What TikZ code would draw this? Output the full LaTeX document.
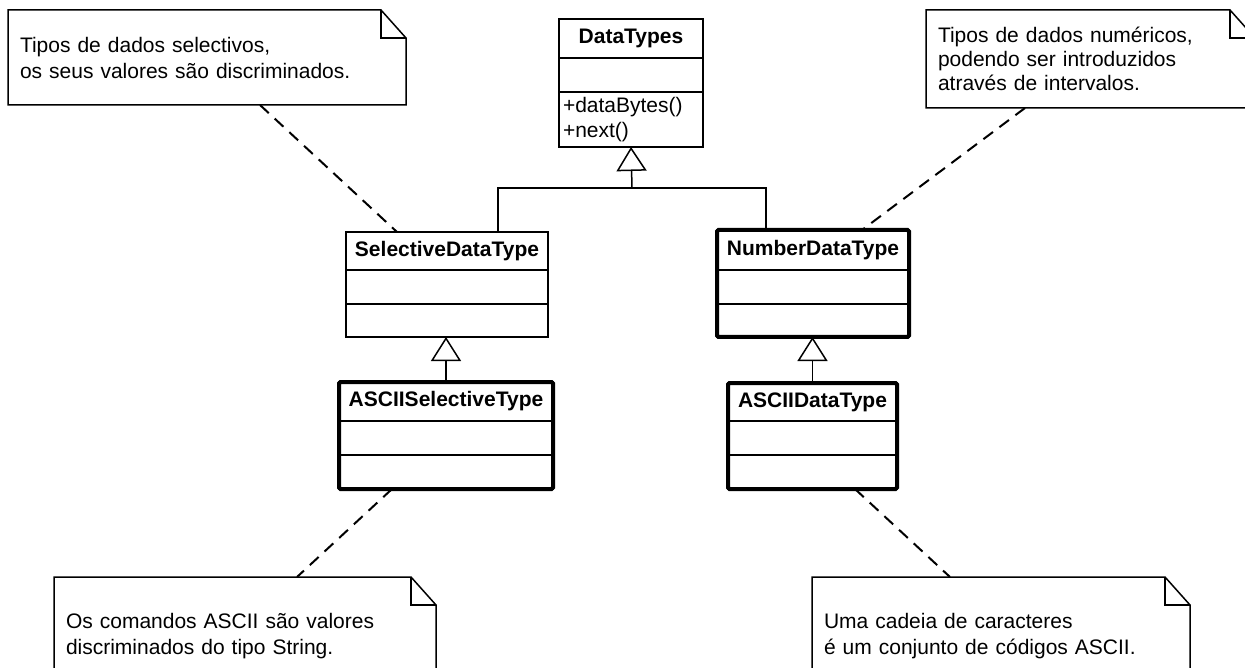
\documentclass[tikz,border=0pt]{standalone}
\usepackage{fontspec}
\setmainfont{Liberation Sans}
\usetikzlibrary{positioning,arrows.meta,calc}
\tikzset{
	classhead/.style={draw, line width=1.5pt, outer sep=0pt, inner sep=0pt, minimum height=39pt, font=\fontsize{21}{26}\selectfont\bfseries},
	compart/.style={draw, line width=1.5pt, outer sep=0pt, inner sep=0pt, minimum height=34pt, font=\fontsize{21}{25}\selectfont},
	thickframe/.style={line width=4pt, rounded corners=1.5pt},
	note/.style={outer sep=0pt, inner ysep=0pt, inner xsep=12pt, align=left, font=\fontsize{21}{26}\selectfont},
	noteline/.style={line width=1.5pt, line join=miter},
	anchorline/.style={line width=2pt, dash pattern=on 12pt off 8pt},
	gen/.style={line width=1.5pt, -{Triangle[open, length=24pt, width=30pt]}}
}
\newcommand\dogear[1]{%
	\draw[noteline] (#1.south west) -- (#1.north west) -- ([xshift=-25pt]#1.north east) -- ([yshift=-28pt]#1.north east) -- (#1.south east) -- cycle;
	\draw[noteline] ([xshift=-25pt]#1.north east) |- ([yshift=-28pt]#1.north east);}

\begin{document}
\begin{tikzpicture}[x=1pt, y=-1pt]
		%%%%% START %%%%%
		\useasboundingbox (0,0) rectangle (1245,668);
		\clip (0,0) rectangle (1245,668);
		
		%%%%% CLASSES %%%%%
		\node[classhead, minimum width=144pt] (dtN) at (631,38.5) {DataTypes};
		\node[compart, minimum width=144pt, below=0pt of dtN] (dtA) {};
		\node[compart, minimum height=55pt, text width=136pt, inner xsep=4pt, align=left, below=0pt of dtA] (dtO) {+dataBytes()\\+next()};
		
		\node[classhead, minimum width=202pt, minimum height=38pt] (selN) at (447,251) {SelectiveDataType};
		\node[compart, minimum width=202pt, below=0pt of selN] (selA) {};
		\node[compart, minimum width=202pt, minimum height=33pt, below=0pt of selA] (selO) {};
		
		\node[classhead, minimum width=192pt, minimum height=40pt] (numN) at (813,250) {NumberDataType};
		\node[compart, minimum width=192pt, below=0pt of numN] (numA) {};
		\node[compart, minimum width=192pt, minimum height=33pt, below=0pt of numA] (numO) {};
		\draw[thickframe] (numN.north west) rectangle (numO.south east);
		
		\node[classhead, minimum width=214pt] (ascN) at (446,401.5) {ASCIISelectiveType};
		\node[compart, minimum width=214pt, below=0pt of ascN] (ascA) {};
		\node[compart, minimum width=214pt, below=0pt of ascA] (ascO) {};
		\draw[thickframe] (ascN.north west) rectangle (ascO.south east);
		
		\node[classhead, minimum width=169pt, minimum height=38pt] (adtN) at (812.5,402) {ASCIIDataType};
		\node[compart, minimum width=169pt, below=0pt of adtN] (adtA) {};
		\node[compart, minimum width=169pt, below=0pt of adtA] (adtO) {};
		\draw[thickframe] (adtN.north west) rectangle (adtO.south east);
		
		%%%%% GENERALIZATIONS %%%%%
		\coordinate (fork) at (632,188);
		\draw[line width=1.5pt] ([xshift=51pt]selN.north) |- (fork) -| ([xshift=-47pt]numN.north);
		\draw[gen] (fork) -- (dtO.south);
		\draw[gen] (ascN.north) -- (ascN.north |- selO.south);
		\draw[gen] (adtN.north) -- (adtN.north |- numO.south);
		
		%%%%% NOTES %%%%%
		\node[note, text width=374pt, minimum height=95pt] (selNote) at (207,57.5) {Tipos de dados selectivos,\\os seus valores são discriminados.};
		\dogear{selNote}
		\node[note, text width=305pt, minimum height=98pt, font=\fontsize{21}{24}\selectfont] (numNote) at (1090.5,59) {Tipos de dados numéricos,\\podendo ser introduzidos\\através de intervalos.};
		\dogear{numNote}
		\node[note, text width=358pt, minimum height=118pt] (ascNote) at (245,636) {Os comandos ASCII são valores\\discriminados do tipo String.};
		\dogear{ascNote}
		\node[note, text width=354pt, minimum height=118pt] (adtNote) at (1001,636) {Uma cadeia de caracteres\\é um conjunto de códigos ASCII.};
		\dogear{adtNote}
		
		\draw[anchorline] ([xshift=53pt]selNote.south) -- ([xshift=-50pt]selN.north);
		\draw[anchorline] ([xshift=-65.5pt]numNote.south) -- ([xshift=49pt]numN.north);
		\draw[anchorline] ([xshift=-54pt]ascO.south) -- ([xshift=52pt]ascNote.north);
		\draw[anchorline] ([xshift=42.5pt]adtO.south) -- ([xshift=-51pt]adtNote.north);
		
		%%%%% END %%%%%
\end{tikzpicture}
\end{document}
